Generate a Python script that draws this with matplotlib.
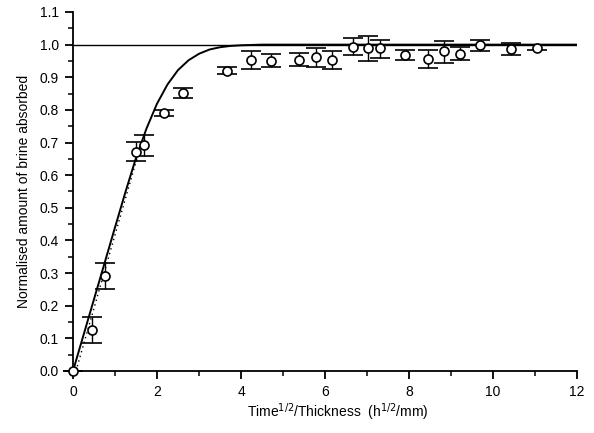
import matplotlib
matplotlib.use("Agg")
import matplotlib.pyplot as plt
from matplotlib.ticker import MultipleLocator

plt.rcParams['font.family'] = ['Liberation Sans', 'DejaVu Sans']

# measured data (x = Time^1/2 / Thickness, y = normalised brine absorbed)
x_data = [0.0, 0.45, 0.76, 1.50, 1.69, 2.17, 2.62, 3.67, 4.24, 4.71, 5.38,
          5.78, 6.16, 6.67, 7.02, 7.31, 7.90, 8.45, 8.83, 9.21, 9.69, 10.43, 11.05]
y_data = [0.0, 0.125, 0.29, 0.672, 0.693, 0.79, 0.853, 0.92, 0.954, 0.951, 0.954,
          0.963, 0.954, 0.994, 0.991, 0.991, 0.969, 0.957, 0.981, 0.972, 1.000, 0.988, 0.991]
y_err_lo = [0.0, 0.04, 0.04, 0.03, 0.033, 0.01, 0.015, 0.01, 0.028, 0.02, 0.02,
            0.033, 0.028, 0.025, 0.04, 0.031, 0.015, 0.028, 0.036, 0.02, 0.018, 0.019, 0.008]
y_err_hi = [0.0, 0.04, 0.04, 0.03, 0.031, 0.01, 0.015, 0.01, 0.025, 0.02, 0.02,
            0.027, 0.025, 0.026, 0.034, 0.024, 0.015, 0.028, 0.031, 0.02, 0.015, 0.018, 0.008]

# model curve (solid)
x_curve = [0.0, 0.5, 1.0, 1.25, 1.5, 1.75, 2.0, 2.25, 2.5, 2.75, 3.0, 3.25,
           3.5, 3.75, 4.0, 4.5, 12.0]
y_curve = [0.0, 0.22, 0.44, 0.549, 0.653, 0.743, 0.819, 0.878, 0.922, 0.952,
           0.972, 0.985, 0.992, 0.996, 0.998, 1.0, 1.0]

# initial-slope line (dotted)
x_dot = [0.07, 1.52]
y_dot = [0.0, 0.65]

x_ticks = [0, 2, 4, 6, 8, 10, 12]
y_ticks = [0.0, 0.1, 0.2, 0.3, 0.4, 0.5, 0.6, 0.7, 0.8, 0.9, 1.0, 1.1]

fig = plt.figure(figsize=(5.94, 4.33), dpi=100)
ax = fig.add_axes([0.1229, 0.1432, 0.8485, 0.8291])

ax.hlines(1.0, 0, 12, color='black', lw=1.0, zorder=1)
ax.plot(x_curve, y_curve, color='black', lw=1.4, zorder=2)
ax.plot(x_dot, y_dot, color='black', lw=1.0, ls=(0, (1, 2.5)), zorder=2)
ax.errorbar(x_data, y_data, yerr=[y_err_lo, y_err_hi], fmt='o', ms=6.5,
            mfc='white', mec='black', mew=1.2, ecolor='black', elinewidth=1.0,
            capsize=7.5, capthick=1.0, zorder=3, clip_on=False)

ax.set_xlim(0, 12)
ax.set_ylim(0, 1.1)
ax.set_xticks(x_ticks)
ax.set_yticks(y_ticks)
ax.set_yticklabels([f"{v:.1f}" for v in y_ticks])
ax.xaxis.set_minor_locator(MultipleLocator(1))
ax.yaxis.set_minor_locator(MultipleLocator(0.05))

for s in ['top', 'right']:
    ax.spines[s].set_visible(False)
for s in ['left', 'bottom']:
    ax.spines[s].set_linewidth(1.3)

ax.tick_params(which='major', direction='out', length=6, width=1.3, labelsize=10, pad=4)
ax.tick_params(which='minor', direction='out', length=3.5, width=1.1)

ax.set_xlabel("Time$^{1/2}$/Thickness  (h$^{1/2}$/mm)", fontsize=10)
ax.xaxis.label.set_va('baseline')
ax.xaxis.set_label_coords(0.526, -0.128)
ax.set_ylabel("Normalised amount of brine absorbed", fontsize=10, labelpad=6)

fig.savefig("out.png", dpi=100)
